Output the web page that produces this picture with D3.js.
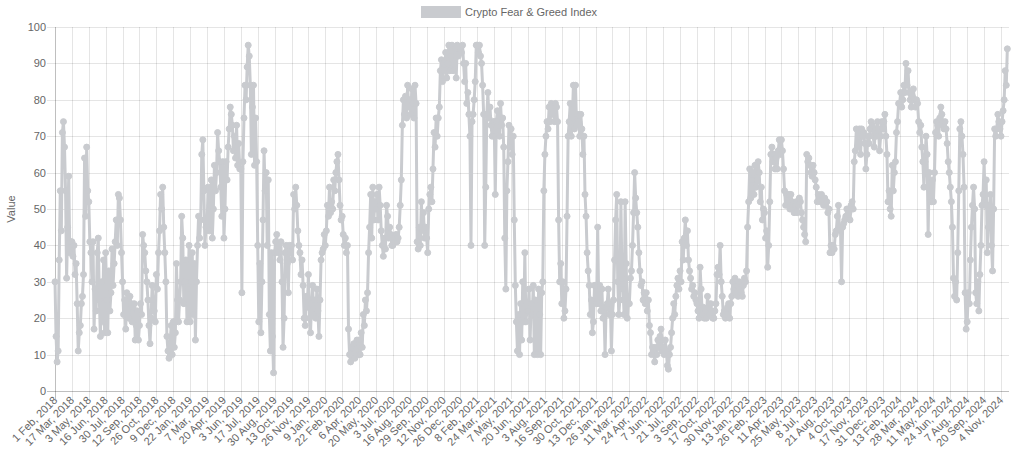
<!DOCTYPE html>
<html>
<head>
<meta charset="utf-8">
<script src="https://cdn.jsdelivr.net/npm/d3@7"></script>
<style>
  body { margin: 0; background: #fff; }
  svg { display: block; font-family: "Liberation Sans", Arial, Helvetica, sans-serif; }
</style>
</head>
<body>
<div id="chart"></div>
<script>
const seriesName = "Crypto Fear & Greed Index";

const tickLabels = [
  "1 Feb, 2018", "17 Mar, 2018", "3 May, 2018", "16 Jun, 2018", "30 Jul, 2018", "12 Sep, 2018",
  "26 Oct, 2018", "9 Dec, 2018", "22 Jan, 2019", "7 Mar, 2019", "20 Apr, 2019", "3 Jun, 2019",
  "17 Jul, 2019", "30 Aug, 2019", "13 Oct, 2019", "26 Nov, 2019", "9 Jan, 2020", "22 Feb, 2020",
  "6 Apr, 2020", "20 May, 2020", "3 Jul, 2020", "16 Aug, 2020", "29 Sep, 2020", "12 Nov, 2020",
  "26 Dec, 2020", "8 Feb, 2021", "24 Mar, 2021", "7 May, 2021", "20 Jun, 2021", "3 Aug, 2021",
  "16 Sep, 2021", "30 Oct, 2021", "13 Dec, 2021", "26 Jan, 2022", "11 Mar, 2022", "24 Apr, 2022",
  "7 Jun, 2022", "21 Jul, 2022", "3 Sep, 2022", "17 Oct, 2022", "30 Nov, 2022", "13 Jan, 2023",
  "26 Feb, 2023", "11 Apr, 2023", "25 May, 2023", "8 Jul, 2023", "21 Aug, 2023", "4 Oct, 2023",
  "17 Nov, 2023", "31 Dec, 2023", "13 Feb, 2024", "28 Mar, 2024", "11 May, 2024", "24 Jun, 2024",
  "7 Aug, 2024", "20 Sep, 2024", "4 Nov, 2024"
];

// index readings, about every 2.75 days (16 readings between two labelled dates)
const fearGreed = [
  30, 15, 8, 11, 36, 55, 44, 71, 74, 67, 55, 31, 45, 59, 38, 41,
  41, 37, 40, 32, 35, 24, 11, 16, 18, 24, 26, 32, 64, 48, 67, 55,
  52, 41, 38, 30, 41, 17, 28, 22, 38, 42, 25, 15, 30, 19, 36, 16,
  38, 25, 16, 33, 22, 27, 39, 29, 35, 41, 47, 40, 54, 53, 47, 38,
  30, 21, 25, 17, 27, 22, 20, 26, 24, 19, 23, 24, 14, 18, 22, 14,
  18, 24, 21, 43, 40, 38, 33, 30, 25, 18, 13, 20, 29, 25, 22, 19,
  32, 28, 38, 44, 54, 50, 56, 45, 38, 30, 15, 11, 9, 13, 18, 10,
  19, 12, 16, 35, 25, 19, 25, 30, 48, 42, 24, 30, 36, 19, 28, 40,
  19, 30, 38, 21, 35, 14, 30, 40, 48, 42, 47, 65, 69, 55, 40, 45,
  45, 56, 44, 51, 58, 42, 50, 62, 55, 60, 71, 66, 63, 56, 48, 63,
  42, 50, 63, 58, 67, 72, 78, 76, 73, 66, 70, 64, 73, 62, 68, 61,
  61, 27, 63, 75, 84, 80, 89, 95, 92, 84, 65, 78, 84, 62, 75, 63,
  40, 19, 35, 16, 30, 47, 66, 55, 60, 40, 58, 21, 11, 38, 15, 5,
  38, 41, 43, 38, 40, 36, 41, 30, 12, 20, 38, 40, 35, 27, 40, 38,
  40, 36, 54, 50, 56, 51, 44, 40, 38, 32, 36, 29, 20, 18, 26, 23,
  32, 20, 16, 24, 29, 21, 25, 20, 28, 22, 15, 25, 36, 38, 39, 43,
  40, 44, 51, 48, 56, 49, 52, 50, 58, 55, 60, 63, 65, 58, 51, 47,
  48, 43, 40, 42, 38, 40, 17, 10, 8, 12, 10, 13, 9, 11, 14, 10,
  14, 10, 16, 12, 21, 18, 25, 22, 27, 38, 45, 54, 42, 56, 47, 52,
  50, 54, 47, 56, 51, 44, 40, 37, 42, 39, 51, 48, 42, 45, 43, 40,
  40, 42, 41, 43, 41, 42, 45, 51, 58, 73, 80, 76, 81, 75, 84, 78,
  80, 76, 83, 79, 75, 84, 79, 41, 39, 45, 40, 52, 44, 49, 42, 45,
  42, 38, 50, 54, 56, 52, 61, 71, 67, 75, 70, 75, 78, 88, 91, 85,
  90, 88, 93, 86, 90, 95, 88, 92, 95, 88, 90, 94, 86, 95, 92, 94,
  94, 93, 95, 90, 85, 90, 79, 82, 76, 70, 40, 74, 76, 80, 85, 95,
  95, 93, 95, 92, 90, 84, 76, 40, 56, 76, 82, 75, 78, 73, 70, 74,
  74, 54, 74, 77, 73, 70, 79, 73, 75, 67, 42, 28, 55, 63, 73, 67,
  72, 65, 70, 47, 29, 19, 11, 21, 10, 24, 14, 30, 19, 38, 19, 22,
  22, 28, 14, 24, 21, 29, 10, 25, 21, 10, 28, 21, 10, 27, 30, 55,
  65, 70, 74, 72, 78, 74, 79, 76, 78, 74, 79, 78, 74, 47, 30, 35,
  24, 30, 20, 22, 28, 48, 70, 74, 79, 70, 75, 84, 72, 84, 73, 76,
  74, 70, 76, 72, 65, 70, 54, 48, 38, 33, 29, 21, 25, 16, 19, 29,
  29, 24, 45, 24, 29, 22, 28, 20, 22, 10, 23, 24, 28, 21, 24, 11,
  21, 25, 36, 47, 54, 30, 21, 25, 52, 31, 28, 21, 52, 35, 20, 24,
  24, 31, 33, 40, 49, 60, 53, 49, 45, 38, 33, 29, 30, 25, 27, 24,
  27, 22, 25, 18, 16, 10, 12, 11, 8, 12, 10, 14, 12, 15, 17, 11,
  12, 10, 14, 11, 7, 6, 10, 12, 16, 20, 24, 21, 26, 29, 31, 28,
  33, 30, 41, 36, 42, 47, 40, 44, 36, 33, 31, 28, 29, 26, 27, 25,
  24, 22, 20, 34, 28, 21, 23, 20, 22, 20, 26, 23, 21, 24, 22, 20,
  20, 22, 24, 32, 34, 32, 40, 30, 26, 21, 22, 20, 21, 23, 24, 20,
  24, 26, 30, 28, 31, 27, 29, 26, 30, 28, 27, 26, 29, 31, 30, 33,
  45, 52, 61, 53, 58, 60, 54, 62, 56, 58, 63, 60, 52, 56, 47, 50,
  49, 42, 44, 34, 40, 52, 65, 67, 63, 65, 61, 64, 61, 66, 69, 65,
  69, 66, 61, 55, 51, 54, 52, 54, 50, 54, 52, 51, 49, 51, 52, 49,
  51, 53, 52, 49, 47, 45, 43, 41, 65, 63, 64, 62, 60, 59, 62, 60,
  58, 56, 52, 54, 53, 52, 54, 52, 51, 53, 51, 52, 49, 50, 38, 40,
  38, 40, 39, 43, 44, 48, 51, 45, 44, 30, 45, 46, 47, 48, 50, 48,
  49, 47, 51, 52, 50, 63, 66, 72, 67, 70, 72, 65, 72, 70, 71, 68,
  61, 65, 70, 68, 72, 74, 73, 70, 67, 72, 70, 74, 72, 66, 70, 74,
  72, 74, 76, 70, 65, 52, 55, 50, 48, 62, 55, 60, 63, 71, 74, 79,
  79, 82, 78, 80, 84, 82, 90, 84, 88, 82, 80, 78, 81, 83, 80, 78,
  80, 79, 74, 71, 73, 67, 63, 56, 63, 70, 65, 43, 60, 55, 52, 58,
  52, 60, 71, 74, 73, 70, 75, 78, 76, 73, 72, 74, 72, 68, 63, 60,
  56, 52, 45, 31, 26, 30, 25, 38, 55, 72, 74, 70, 65, 56, 27, 17,
  19, 27, 24, 36, 45, 51, 56, 50, 27, 24, 30, 22, 32, 40, 51, 54,
  63, 51, 58, 38, 45, 51, 54, 40, 33, 50, 72, 70, 72, 76, 74, 72,
  70, 74, 77, 80, 88, 84, 94
];

const yTicks = [0, 10, 20, 30, 40, 50, 60, 70, 80, 90, 100];
const perTick = 16;

const width = 1024;
const height = 462;
const plot = { left: 55, right: 1009, top: 27, bottom: 391 };
const gray = "rgb(201, 203, 207)";
const gridColor = "rgba(0,0,0,0.1)";
const textColor = "#666";
const fontSize = "11px";

const svg = d3.select("#chart").append("svg")
  .attr("width", width)
  .attr("height", height);

const x = d3.scaleLinear()
  .domain([0, (tickLabels.length - 1) * perTick])
  .range([plot.left, 1001]);

const y = d3.scaleLinear()
  .domain([0, 100])
  .range([plot.bottom, plot.top]);

// grid
const grid = svg.append("g");
grid.selectAll("line.h")
  .data(yTicks)
  .enter().append("line")
  .attr("class", "h")
  .attr("x1", plot.left - 8).attr("x2", plot.right)
  .attr("y1", d => Math.round(y(d)) + 0.5).attr("y2", d => Math.round(y(d)) + 0.5)
  .attr("stroke", d => d === 0 ? "rgba(0,0,0,0.25)" : gridColor);

grid.selectAll("line.v")
  .data(tickLabels)
  .enter().append("line")
  .attr("class", "v")
  .attr("x1", (d, i) => Math.round(x(i * perTick)) + 0.5)
  .attr("x2", (d, i) => Math.round(x(i * perTick)) + 0.5)
  .attr("y1", plot.top).attr("y2", plot.bottom + 8)
  .attr("stroke", (d, i) => i === 0 ? "rgba(0,0,0,0.25)" : gridColor);

// y axis labels
const yAxis = svg.append("g")
  .attr("transform", "translate(" + plot.left + ",0)")
  .call(d3.axisLeft(y).tickValues(yTicks).tickSize(0).tickPadding(9));
yAxis.select(".domain").remove();
yAxis.selectAll("text")
  .attr("fill", textColor)
  .style("font-size", fontSize);

svg.append("text")
  .attr("transform", "translate(15," + ((plot.top + plot.bottom) / 2) + ") rotate(-90)")
  .attr("text-anchor", "middle")
  .attr("fill", textColor)
  .style("font-size", fontSize)
  .text("Value");

// x axis labels
svg.append("g")
  .selectAll("text")
  .data(tickLabels)
  .enter().append("text")
  .attr("transform", (d, i) => "translate(" + (x(i * perTick) + 3) + "," + (plot.bottom + 10) + ") rotate(-45)")
  .attr("text-anchor", "end")
  .attr("fill", textColor)
  .style("font-size", fontSize)
  .text(d => d);

// series
const line = d3.line()
  .x((d, i) => x(i))
  .y(d => y(d));

svg.append("path")
  .datum(fearGreed)
  .attr("d", line)
  .attr("fill", "none")
  .attr("stroke", gray)
  .attr("stroke-width", 3)
  .attr("stroke-linejoin", "round");

svg.append("g")
  .selectAll("circle")
  .data(fearGreed)
  .enter().append("circle")
  .attr("cx", (d, i) => x(i))
  .attr("cy", d => y(d))
  .attr("r", 3)
  .attr("fill", gray)
  .attr("stroke", gray)
  .attr("stroke-width", 1);

// legend
const legend = svg.append("g");
legend.append("rect")
  .attr("x", 421).attr("y", 6)
  .attr("width", 40).attr("height", 12)
  .attr("fill", gray);
legend.append("text")
  .attr("x", 465).attr("y", 16)
  .attr("fill", textColor)
  .style("font-size", fontSize)
  .text(seriesName);
</script>
</body>
</html>
